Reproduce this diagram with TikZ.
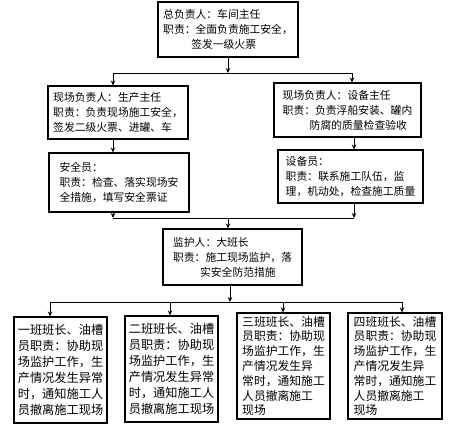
\documentclass[tikz,border=0pt]{standalone}
\usepackage{fontspec}
\setmainfont{Noto Sans CJK SC}
\usetikzlibrary{arrows.meta}
\begin{document}
\begin{tikzpicture}[x=1pt,y=1pt,
  box/.style={draw,line width=1.1pt,rectangle,inner sep=2pt,align=left,
    font=\fontsize{10.8}{15}\selectfont},
  sbox/.style={box,font=\fontsize{12.2}{16}\selectfont},
  tbox/.style={box,font=\fontsize{11.8}{14.8}\selectfont},
  conn/.style={line width=0.9pt},
  arr/.style={conn,-{Stealth[length=5pt,width=4.5pt]}}]
\useasboundingbox (0,0) rectangle (450,425);
% boxes
\node[box,minimum width=140,minimum height=55] (top) at (228,395.5)
  {总负责人：车间主任\\职责：全面负责施工安全，\\\hspace*{2.6em}签发一级火票};
\node[box,minimum width=140,minimum height=53] (l2) at (118,312.5)
  {现场负责人：生产主任\\职责：负责现场施工安全，\\签发二级火票、进罐、车};
\node[box,minimum width=147,minimum height=54] (r2) at (347.5,315)
  {现场负责人：设备主任\\职责：负责浮船安装、罐内\\\hspace*{2.5em}防腐的质量检查验收};
\node[box,minimum width=140,minimum height=59] (l3) at (119,242.5)
  {安全员：\\职责：检查、落实现场安\\全措施，填写安全票证};
\node[box,minimum width=145,minimum height=53] (r3) at (350.5,248.5)
  {设备员：\\职责：联系施工队伍，监\\理，机动处，检查施工质量};
\node[box,minimum width=139,minimum height=56] (mid) at (232.5,168)
  {监护人：大班长\\职责：施工现场监护，落\\\hspace*{2.5em}实安全防范措施};
\node[sbox,minimum width=93,minimum height=106] (b1) at (60.5,55)
  {一班班长、油槽\\员职责：协助现\\场监护工作，生\\产情况发生异常\\时，通知施工人\\员撤离施工现场};
\node[sbox,minimum width=93,minimum height=106] (b2) at (171.5,56)
  {二班班长、油槽\\员职责：协助现\\场监护工作，生\\产情况发生异常\\时，通知施工人\\员撤离施工现场};
\node[tbox,minimum width=93,minimum height=106] (b3) at (283.5,59)
  {三班班长、油槽\\员职责：协助现\\场监护工作，生\\产情况发生异\\常时，通知施工\\人员撤离施工\\现场};
\node[tbox,minimum width=94,minimum height=106] (b4) at (395,59)
  {四班班长、油槽\\员职责：协助现\\场监护工作，生\\产情况发生异\\常时，通知施工\\人员撤离施工\\现场};
% junction coordinates
\coordinate (j1) at (228,352);
\coordinate (j1l) at (113,352);
\coordinate (j1r) at (352,352);
\coordinate (j2) at (228,207);
\coordinate (j2l) at (113,207);
\coordinate (j2r) at (354,207);
\coordinate (j3) at (230,123);
\coordinate (j3a) at (50,123);
\coordinate (j3b) at (170,123);
\coordinate (j3c) at (283,123);
\coordinate (j3d) at (402,123);
% connectors
\draw[arr] (top.south -| j1) -- (j1);
\draw[conn] (j1l) -- (j1r);
\draw[arr] (j1l) -- (j1l |- l2.north);
\draw[arr] (j1r) -- (j1r |- r2.north);
\draw[arr] (l2.south -| j1l) -- (l3.north -| j1l);
\draw[arr] (r2.south -| j2r) -- (r3.north -| j2r);
\draw[arr] (l3.south -| j2l) -- (j2l);
\draw[arr] (r3.south -| j2r) -- (j2r);
\draw[conn] (j2l) -- (j2r);
\draw[arr] (j2) -- (j2 |- mid.north);
\draw[arr] (mid.south -| j3) -- (j3);
\draw[conn] (j3a) -- (j3d);
\draw[arr] (j3a) -- (j3a |- b1.north);
\draw[arr] (j3b) -- (j3b |- b2.north);
\draw[arr] (j3c) -- (j3c |- b3.north);
\draw[arr] (j3d) -- (j3d |- b4.north);
\end{tikzpicture}
\end{document}
